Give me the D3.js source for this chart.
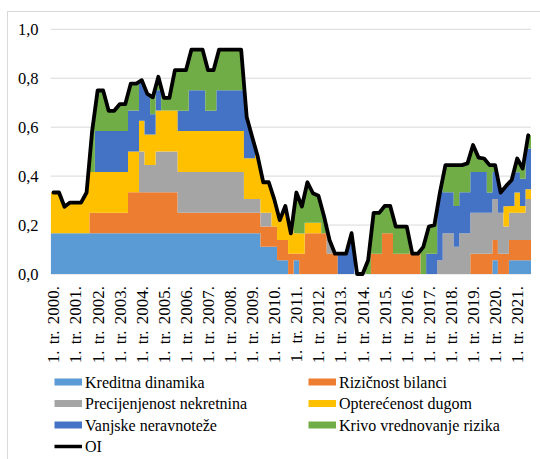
<!DOCTYPE html>
<html><head><meta charset="utf-8">
<script src="https://cdn.jsdelivr.net/npm/d3@7"></script>
<style>
body{margin:0;background:#fff}
svg{display:block}
svg text{font-family:"Times New Roman","Liberation Serif",Tinos,"Noto Serif","DejaVu Serif",serif !important;fill:#000}
</style>
</head><body>
<svg id="c" width="540" height="459"></svg>
<script>
// Quarterly values, 2000 Q1 .. 2021 Q3 (one row per year)
const kreditna = [
 .167,.167,.167,.167, .167,.167,.167,.167, .167,.167,.167,.167, .167,.167,.167,.167,
 .167,.167,.167,.167, .167,.167,.167,.167, .167,.167,.167,.167, .167,.167,.167,.167,
 .167,.167,.167,.167, .167,.167,.111,.111, .111,.056,.056,0, .056,0,0,0,
 0,0,0,0, 0,0,0,0, 0,0,0,0, 0,0,0,0, 0,0,0,0, 0,0,0,0, 0,0,0,0, 0,0,0,0,
 .056,0,0,.056, .056,.056,.056];
const rizicnost = [
 0,0,0,0, 0,0,0,.083, .083,.083,.083,.083, .083,.083,.167,.167,
 .167,.167,.167,.167, .167,.167,.167,.083, .083,.083,.083,.083, .083,.083,.083,.083,
 .083,.083,.083,.083, .083,.083,.083,.083, .083,.083,.083,.083, .028,.083,.167,.167,
 .167,.167,.083,.083, 0,0,0,0, 0,0,.083,.083, .167,.167,.083,.083, .083,.083,.083,0,
 0,0,0,0, 0,0,0,0, .083,.083,.083,.083, .083,.083,.083,.083, .083,.083,.083];
const precijenjenost = [
 0,0,0,0, 0,0,0,0, 0,0,0,0, 0,0,0,0,
 .167,.111,.111,.167, .167,.167,.167,.167, .167,.167,.167,.167, .167,.167,.167,.167,
 .167,.167,.167,.056, .056,.056,.056,.056, 0,0,0,0, 0,0,0,0,
 0,0,.056,0, 0,0,0,0, 0,0,0,0, 0,0,0,0, 0,0,0,0,
 0,0,.056,.167, .167,.111,.167,.167, .167,.167,.167,.167, .167,.167,.111,.111, .111,.111,.167];
const opterecenost = [
 .167,.167,.108,.125, .125,.125,.167,.167, .167,.167,.167,.167, .167,.167,.167,.167,
 .125,.125,.125,.167, .167,.167,.167,.167, .167,.167,.167,.167, .167,.167,.167,.167,
 .167,.167,.167,.167, .167,.174,.125,.125, .111,.081,.139,.083, .083,.083,.042,.042,
 .042,0,0,0, 0,0,0,0, 0,0,0,0, 0,0,0,0, 0,0,0,0,
 0,0,0,0, 0,0,0,0, 0,0,0,0, 0,0,.083,.028, .083,.028,.04];
const vanjske = [
 0,0,0,0, 0,0,0,0, .167,.167,.167,.167, .167,.167,.167,.167,
 .167,.167,.083,.083, 0,0,0,.083, .083,.167,.167,.167, .083,.083,.167,.167,
 .167,.167,.167,.169, .087,0,0,0, 0,0,0,0, 0,0,0,0,
 0,0,0,0, .083,.083,.167,0, 0,0,0,0, 0,0,0,0, 0,0,0,0,
 .083,.083,.278,.167, .167,.167,.167,.167, .167,.167,.167,.083, .111,.083,.083,.106, .083,.111,.167];
const krivo = [
 0,0,0,0, 0,0,0,.167, .167,.167,.083,.083, .111,.111,.111,.111,
 0,0,.069,.056, .053,.053,.167,.167, .167,.167,.167,.167, .167,.167,.167,.167,
 .167,.167,.167,0, 0,0,0,0, 0,0,0,0, .166,.11,.166,.121,
 .111,.07,0,0, 0,0,0,0, 0,.056,.167,.167, .111,.111,.111,.111, .111,0,0,.111,
 .111,.117,0,.111, .111,.167,.111,.118, .11,.059,.055,.112, .028,0,0,0, .056,.042,.054];
const oi = [
 .333,.333,.275,.292, .292,.292,.333,.583, .75,.75,.667,.667, .694,.694,.778,.778,
 .792,.736,.722,.806, .72,.72,.833,.833, .833,.917,.917,.917, .833,.833,.917,.917,
 .917,.917,.917,.642, .56,.48,.375,.375, .305,.22,.278,.166, .333,.276,.375,.33,
 .32,.237,.139,.083, .083,.083,.167,0, 0,.056,.25,.25, .278,.278,.194,.194,
 .194,.083,.083,.111, .194,.2,.333,.445, .445,.445,.445,.452, .527,.476,.472,.445,
 .445,.333,.36,.384, .472,.431,.567];
const xTickLabels = ["1. tr. 2000.","1. tr. 2001.","1. tr. 2002.","1. tr. 2003.","1. tr. 2004.",
 "1. tr. 2005.","1. tr. 2006.","1. tr. 2007.","1. tr. 2008.","1. tr. 2009.","1. tr. 2010.",
 "1. tr. 2011.","1. tr. 2012.","1. tr. 2013.","1. tr. 2014.","1. tr. 2015.","1. tr. 2016.",
 "1. tr. 2017.","1. tr. 2018.","1. tr. 2019.","1. tr. 2020.","1. tr. 2021."];
const yTickValues = [0,0.2,0.4,0.6,0.8,1.0];
const yTickLabels = ["0,0","0,2","0,4","0,6","0,8","1,0"];
const seriesNames = ["Kreditna dinamika","Rizičnost bilanci","Precijenjenost nekretnina",
 "Opterećenost dugom","Vanjske neravnoteže","Krivo vrednovanje rizika"];
const seriesColors = ["#5B9BD5","#ED7D31","#A5A5A5","#FFC000","#4472C4","#70AD47"];
const seriesValues = [kreditna,rizicnost,precijenjenost,opterecenost,vanjske,krivo];

const FONT = '"Times New Roman","Liberation Serif",Tinos,"Noto Serif","DejaVu Serif",serif';
const n = oi.length;
const cats = d3.range(n);
const L = 50.7, R = 531, T = 29.3, B = 274;
const x = d3.scaleBand().domain(cats).range([L, R]).padding(0);
const y = d3.scaleLinear().domain([0, 1]).range([B, T]);
const cx = i => x(i) + x.bandwidth() / 2;

const svg = d3.select("#c");
svg.append("rect").attr("x", 7.5).attr("y", 11.5).attr("width", 560).attr("height", 470)
  .attr("fill", "none").attr("stroke", "#d9d9d9").attr("stroke-width", 1);

// gridlines
svg.append("g").selectAll("line").data(yTickValues).join("line")
  .attr("x1", L).attr("x2", R).attr("y1", d => y(d)).attr("y2", d => y(d))
  .attr("stroke", "#d9d9d9").attr("stroke-width", 1);

// y axis labels
const yAxis = d3.axisLeft(y).tickValues(yTickValues)
  .tickFormat((d, k) => yTickLabels[k]).tickSize(0).tickPadding(0);
const gy = svg.append("g").attr("transform", "translate(38.5,0)").call(yAxis)
  .attr("font-family", FONT).attr("font-size", 16);
gy.select(".domain").remove();
gy.selectAll("text").style("font-family", FONT).attr("font-size", 16.5).attr("fill", "#000");

// x axis labels
const xAxis = d3.axisBottom(x).tickValues(d3.range(0, n, 4))
  .tickFormat(d => xTickLabels[d / 4]).tickSize(0);
const gx = svg.append("g").attr("transform", `translate(0,${B})`).call(xAxis)
  .attr("font-family", FONT).attr("font-size", 17);
gx.select(".domain").remove();
gx.selectAll("text").style("font-family", FONT).attr("font-size", 17).attr("fill", "#000")
  .style("word-spacing", "2px")
  .attr("transform", "rotate(-90)").attr("text-anchor", "end")
  .attr("x", -12).attr("y", 0).attr("dy", "0.35em");

// stacked data
const rows = cats.map(i => {
  const o = {};
  seriesNames.forEach((s, k) => o[s] = seriesValues[k][i]);
  return o;
});
const stacked = d3.stack().keys(seriesNames)(rows);
const topIdx = cats.map(i => {
  let t = -1;
  stacked.forEach((s, k) => { if (s[i][1] - s[i][0] > 1e-9) t = k; });
  return t;
});

// clip: area beneath the OI line
const clipPts = [{x: L, v: oi[0]}].concat(cats.map(i => ({x: cx(i), v: oi[i]})), [{x: R, v: oi[n - 1]}]);
svg.append("defs").append("clipPath").attr("id", "under")
  .append("path").attr("d", d3.area().x(d => d.x).y0(y(0)).y1(d => y(d.v))(clipPts));

const area = d3.area().curve(d3.curveStepAfter)
  .x(d => d.x).y0(d => y(d.lo)).y1(d => y(d.hi));
const gArea = svg.append("g").attr("clip-path", "url(#under)");
stacked.forEach((s, k) => {
  const pts = cats.map(i => ({x: x(i), lo: s[i][0], hi: topIdx[i] === k ? 1 : s[i][1]}));
  pts.push({x: R, lo: pts[n - 1].lo, hi: pts[n - 1].hi});
  gArea.append("path").attr("d", area(pts)).attr("fill", seriesColors[k]);
});

// OI line
svg.append("path").datum(cats)
  .attr("d", d3.line().x(i => cx(i)).y(i => y(oi[i])))
  .attr("fill", "none").attr("stroke", "#000").attr("stroke-width", 3.8)
  .attr("stroke-linejoin", "round").attr("stroke-linecap", "round");

// legend
const legItems = seriesNames.map((s, k) => ({name: s, color: seriesColors[k], type: "box"}))
  .concat([{name: "OI", color: "#000", type: "line"}]);
const colX = [54.5, 308.5], rowY = [382, 403.5, 425, 446.5];
const leg = svg.append("g");
legItems.forEach((d, k) => {
  const gx0 = colX[k % 2], gy0 = rowY[Math.floor(k / 2)];
  if (d.type === "box") {
    leg.append("rect").attr("x", gx0).attr("y", gy0 - 3.5).attr("width", 27.5).attr("height", 7).attr("fill", d.color);
  } else {
    leg.append("line").attr("x1", gx0).attr("x2", gx0 + 27.5).attr("y1", gy0).attr("y2", gy0)
      .attr("stroke", "#000").attr("stroke-width", 3.5);
  }
  leg.append("text").attr("x", gx0 + 30.5).attr("y", gy0).attr("dy", "0.35em")
    .style("font-family", FONT).attr("font-size", 16).text(d.name);
});
</script>
</body></html>
